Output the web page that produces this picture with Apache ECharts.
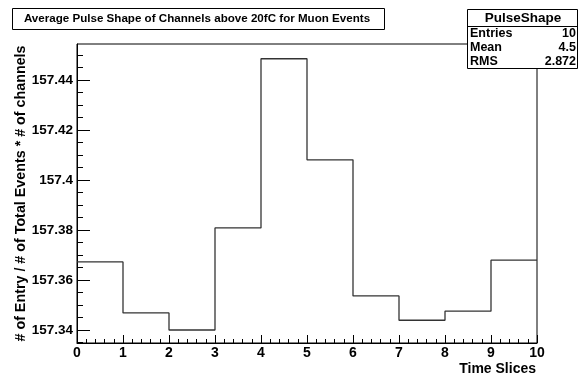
<!DOCTYPE html>
<html>
<head>
<meta charset="utf-8">
<script src="https://cdn.jsdelivr.net/npm/echarts@6/dist/echarts.min.js"></script>
<style>
  html, body { margin: 0; padding: 0; background: #fff; }
  #chart { width: 579px; height: 376px; }
</style>
</head>
<body>
<div id="chart"></div>
<script>
// bin edges of the histogram (11 edges, 10 bins)
var binEdges = [0, 1, 2, 3, 4, 5, 6, 7, 8, 9, 10]
// bin contents
var binValues = [157.3673, 157.3469, 157.3401, 157.3809, 157.4485, 157.4081, 157.3537, 157.3440, 157.3476, 157.3680]

var yMajorTicks = [157.34, 157.36, 157.38, 157.40, 157.42, 157.44]
var yMajorLabels = ['157.34', '157.36', '157.38', '157.4', '157.42', '157.44']
var yMinorTicks = [157.335, 157.345, 157.35, 157.355, 157.365, 157.37, 157.375, 157.385, 157.39, 157.395,
                   157.405, 157.41, 157.415, 157.425, 157.43, 157.435, 157.445, 157.45]

var statNames = ['Entries', 'Mean', 'RMS']
var statValues = ['10', '4.5', '2.872']

var yMin = 157.3349
var yMax = 157.4544

var font = 'Liberation Sans, Arial, Helvetica, sans-serif'

var data = []
for (var i = 0; i < binValues.length; i++) {
    data.push([binEdges[i], binValues[i]])
}
data.push([binEdges[binEdges.length - 1], binValues[binValues.length - 1]])

var myChart = echarts.init(document.getElementById('chart'), null, { renderer: 'canvas' })

var statsGraphics = [
    { type: 'rect', shape: { x: 467.5, y: 9.5, width: 110, height: 59 },
      style: { fill: '#fff', stroke: '#000', lineWidth: 1 } },
    { type: 'line', shape: { x1: 467.5, y1: 26.5, x2: 577.5, y2: 26.5 },
      style: { stroke: '#000', lineWidth: 1 } },
    { type: 'text', x: 523, y: 18, style: { text: 'PulseShape', font: 'bold 13.5px ' + font,
      fill: '#000', align: 'center', verticalAlign: 'middle' } }
]
for (var s = 0; s < statNames.length; s++) {
    statsGraphics.push({ type: 'text', x: 470, y: 34 + s * 14, style: { text: statNames[s],
        font: 'bold 12.5px ' + font, fill: '#000', align: 'left', verticalAlign: 'middle' } })
    statsGraphics.push({ type: 'text', x: 576, y: 34 + s * 14, style: { text: statValues[s],
        font: 'bold 12.5px ' + font, fill: '#000', align: 'right', verticalAlign: 'middle' } })
}

var option = {
    animation: false,
    backgroundColor: '#fff',
    grid: { left: 77, top: 44, width: 460, height: 299, show: true,
            borderColor: '#000', borderWidth: 1, backgroundColor: 'transparent' },
    xAxis: {
        type: 'value', min: 0, max: 10, interval: 1,
        axisLine: { lineStyle: { color: '#000', width: 1 } },
        axisTick: { inside: true, length: 8, lineStyle: { color: '#000' } },
        minorTick: { show: true, splitNumber: 5, length: 4, lineStyle: { color: '#000' } },
        splitLine: { show: false },
        axisLabel: { color: '#000', fontFamily: font, fontWeight: 'bold', fontSize: 14, margin: 3 }
    },
    yAxis: [{
        type: 'value', min: yMin, max: yMax,
        axisLine: { show: true, lineStyle: { color: '#000', width: 1 } },
        axisTick: { show: true, inside: true, length: 13, customValues: yMajorTicks, lineStyle: { color: '#000' } },
        splitLine: { show: false },
        axisLabel: { color: '#000', fontFamily: font, fontWeight: 'bold', fontSize: 13.5, margin: 4,
                     customValues: yMajorTicks,
                     formatter: function (v) {
                         for (var k = 0; k < yMajorTicks.length; k++) {
                             if (Math.abs(yMajorTicks[k] - v) < 1e-6) return yMajorLabels[k]
                         }
                         return ''
                     } },
        name: '# of Entry / # of Total Events * # of channels',
        nameLocation: 'middle', nameRotate: 90, nameGap: 49, nameMoveOverlap: false,
        nameTextStyle: { color: '#000', fontFamily: font, fontWeight: 'bold', fontSize: 14.3 }
    }, {
        type: 'value', min: yMin, max: yMax, position: 'left',
        axisLine: { show: false },
        axisTick: { show: true, inside: true, length: 6, customValues: yMinorTicks, lineStyle: { color: '#000' } },
        axisLabel: { show: false },
        splitLine: { show: false }
    }],
    series: [{
        type: 'line', step: 'end', data: data, symbol: 'none',
        lineStyle: { color: '#333', width: 1.3 }
    }],
    graphic: [
        { type: 'group', z: 100, children: [
            { type: 'rect', shape: { x: 12.5, y: 8.5, width: 372, height: 21 },
              style: { fill: '#fff', stroke: '#000', lineWidth: 1 } },
            { type: 'text', x: 197, y: 19, style: { text: 'Average Pulse Shape of Channels above 20fC for Muon Events',
              font: 'bold 11.6px ' + font, fill: '#000', align: 'center', verticalAlign: 'middle' } },
            { type: 'text', x: 536, y: 369, style: { text: 'Time Slices',
              font: 'bold 14px ' + font, fill: '#000', align: 'right', verticalAlign: 'middle' } }
        ] },
        { type: 'group', z: 100, children: statsGraphics }
    ]
}

myChart.setOption(option)
</script>
</body>
</html>
